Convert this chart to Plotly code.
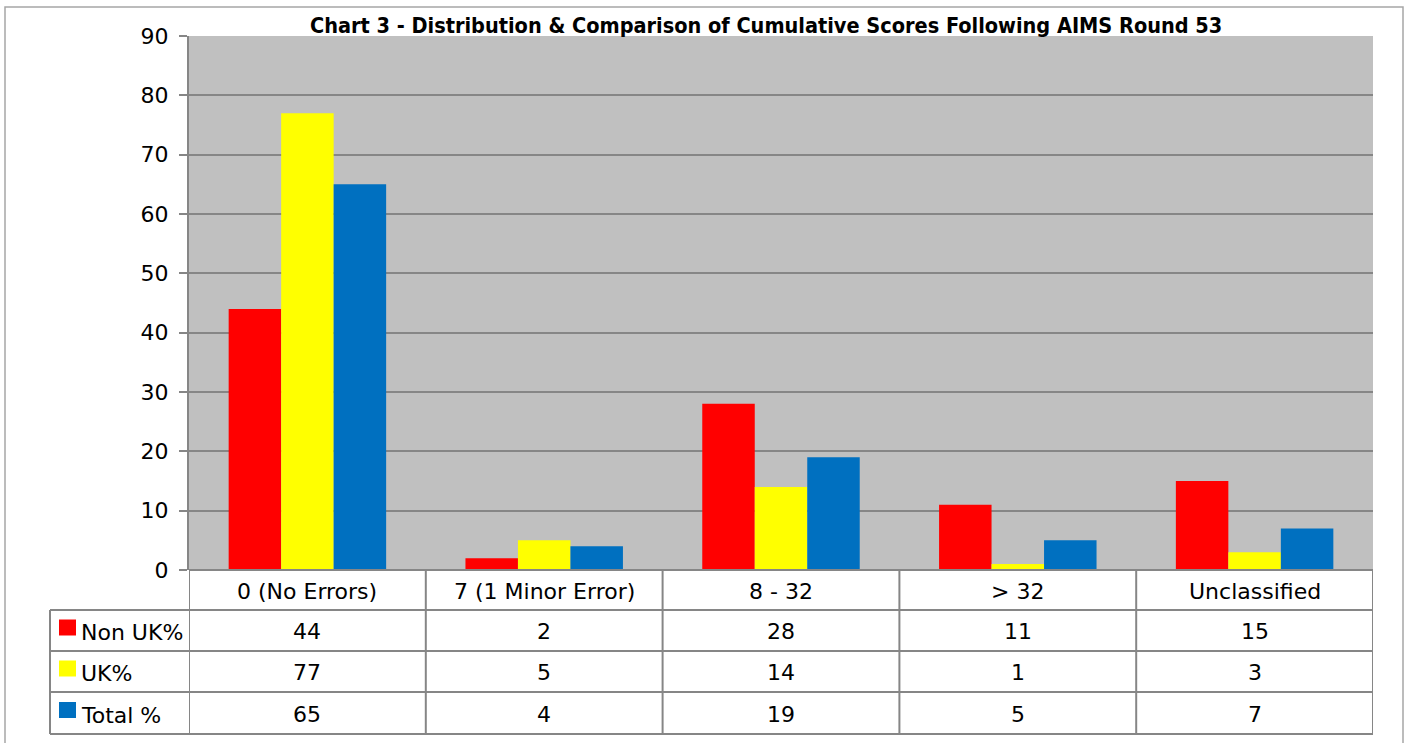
import plotly.graph_objects as go

categories = ["0 (No Errors)", "7 (1 Minor Error)", "8 - 32", "> 32", "Unclassified"]
series_names = ["Non UK%", "UK%", "Total %"]
non_uk = [44, 2, 28, 11, 15]
uk = [77, 5, 14, 1, 3]
total = [65, 4, 19, 5, 7]
series_values = [non_uk, uk, total]
colors = ["#FF0000", "#FFFF00", "#0070C0"]
title_text = "Chart 3 - Distribution & Comparison of Cumulative Scores Following AIMS Round 53"

W, H = 1407, 743
PX_L, PX_R = 189, 1373      # plot area left/right (px)
PY_T, PY_B = 36, 570        # plot area top/bottom (px)
ROWS = [570, 610, 651, 692, 734]  # table horizontal lines (px)
LEG_L = 50
GRID = "#868686"
FONT = "DejaVu Sans"
TFONT = "DejaVu Sans Condensed"


def fx(px):
    return px / W


def fy(py):
    return 1 - py / H


fig = go.Figure()
for name, vals, col in zip(series_names, series_values, colors):
    fig.add_trace(go.Bar(x=list(range(len(categories))), y=vals, name=name,
                         marker=dict(color=col, line=dict(width=0)),
                         hoverinfo="x+y+name"))

shapes = []
# outer chart border
shapes.append(dict(type="rect", xref="paper", yref="paper", x0=fx(5), x1=fx(1403), y0=fy(745), y1=fy(7),
                   line=dict(color="#A6A6A6", width=1.5), layer="below"))
# table horizontal lines
for i, r in enumerate(ROWS):
    x0 = PX_L if i == 0 else LEG_L
    shapes.append(dict(type="line", xref="paper", yref="paper", x0=fx(x0), x1=fx(PX_R), y0=fy(r), y1=fy(r),
                       line=dict(color=GRID, width=2)))
# table vertical lines at category boundaries
n = len(categories)
for k in range(n + 1):
    xb = k - 0.5
    shapes.append(dict(type="line", xref="x", yref="paper", x0=xb, x1=xb, y0=fy(ROWS[0]), y1=fy(ROWS[-1]),
                       line=dict(color=GRID, width=2)))
# legend column left line
shapes.append(dict(type="line", xref="paper", yref="paper", x0=fx(LEG_L), x1=fx(LEG_L), y0=fy(ROWS[1]), y1=fy(ROWS[-1]),
                   line=dict(color=GRID, width=2)))

annotations = []
# category header row
for i, c in enumerate(categories):
    annotations.append(dict(x=i, y=fy((ROWS[0] + ROWS[1]) / 2 + 1), xref="x", yref="paper", text=c, showarrow=False,
                            font=dict(family=FONT, size=22, color="#000000"), xanchor="center", yanchor="middle"))
# data rows
for r, (name, vals, col) in enumerate(zip(series_names, series_values, colors)):
    yc = (ROWS[r + 1] + ROWS[r + 2]) / 2
    for i, v in enumerate(vals):
        annotations.append(dict(x=i, y=fy(yc + 1), xref="x", yref="paper", text=str(v), showarrow=False,
                                font=dict(family=FONT, size=22, color="#000000"), xanchor="center", yanchor="middle"))
    # legend key
    shapes.append(dict(type="rect", xref="paper", yref="paper", x0=fx(59), x1=fx(76), y0=fy(yc + 5), y1=fy(yc - 11),
                       fillcolor=col, line=dict(width=0)))
    annotations.append(dict(x=fx(79), y=fy(yc + 2), xref="paper", yref="paper", text=name, showarrow=False,
                            font=dict(family=FONT, size=22, color="#000000"), xanchor="left", yanchor="middle"))
# title
annotations.append(dict(x=fx(766), y=fy(25), xref="paper", yref="paper",
                        text="<b>" + title_text + "</b>", showarrow=False,
                        font=dict(family=TFONT, size=21.5, color="#000000"), xanchor="center", yanchor="middle"))

fig.update_layout(
    width=W, height=H, autosize=False,
    margin=dict(l=0, r=0, t=0, b=0, pad=0, autoexpand=False),
    paper_bgcolor="#FFFFFF",
    plot_bgcolor="#C0C0C0",
    barmode="group",
    bargap=0.335,
    bargroupgap=0,
    showlegend=False,
    shapes=shapes,
    annotations=annotations,
    xaxis=dict(domain=[fx(PX_L), fx(PX_R)], range=[-0.5, n - 0.5], showticklabels=False,
               showgrid=False, zeroline=False, showline=False, ticks="", automargin=False),
    yaxis=dict(domain=[fy(PY_B), fy(PY_T)], range=[0, 90], dtick=10, tick0=0,
               showgrid=True, gridcolor=GRID, gridwidth=2, zeroline=False,
               showline=True, linecolor=GRID, linewidth=2,
               ticks="outside", ticklen=8, tickcolor=GRID, tickwidth=2, automargin=False,
               tickfont=dict(family=FONT, size=22, color="#000000"), ticklabelstandoff=6),
    font=dict(family=FONT),
)

fig.write_html("out.html", config={"displayModeBar": False},
               post_script="document.body.style.margin='0';")
